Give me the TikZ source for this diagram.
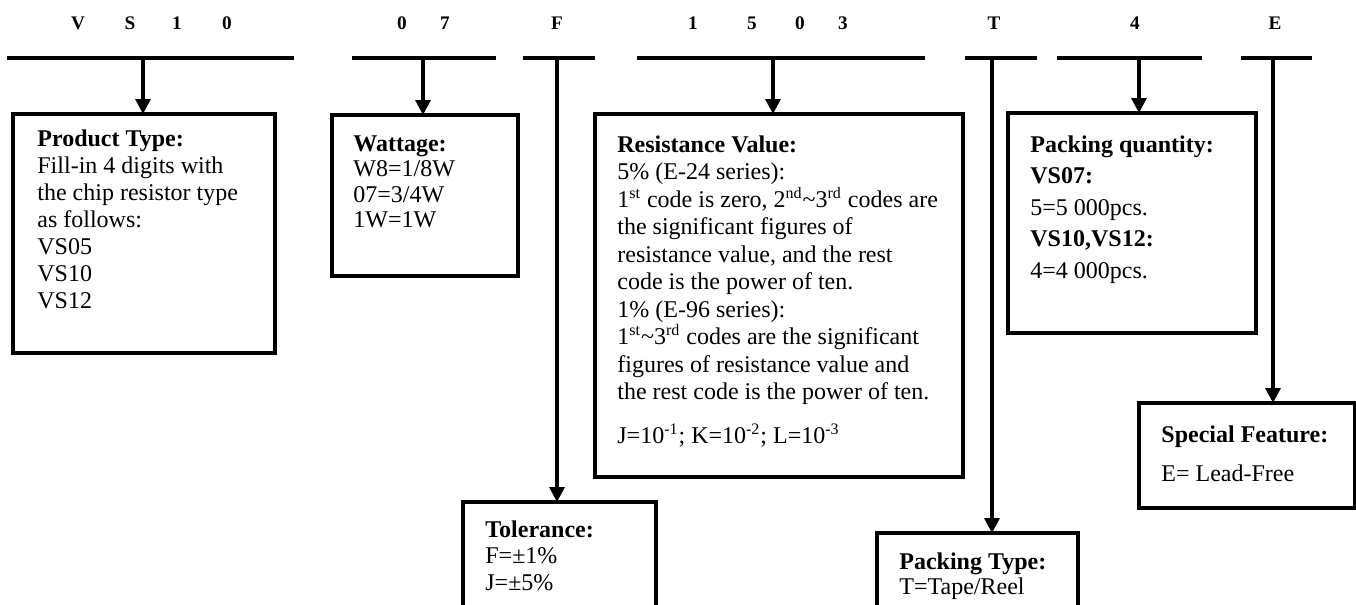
\documentclass[tikz,border=0pt]{standalone}
\usepackage{fontspec}
\setmainfont{Liberation Serif}
\usetikzlibrary{arrows.meta}
\setlength{\lineskiplimit}{-20pt}
\begin{document}
\begin{tikzpicture}[x=0.5pt,y=-0.5pt,
  hline/.style={line width=2pt},
  box/.style={draw, line width=1.75pt, rectangle, inner sep=0pt, outer sep=0pt, anchor=north west},
  arr/.style={line width=1.6pt, -{Triangle[width=7.5pt,length=7.5pt]}},
  lab/.style={font=\fontsize{9.6}{11}\selectfont\bfseries, anchor=base, inner sep=0pt},
  txt/.style={anchor=north west, inner sep=0pt, align=left}
]
\useasboundingbox (0,0) rectangle (1356,605);
\clip (0,0) rectangle (1356,605);

% header letters
\node[lab] (lV) at (78,30) {V};
\node[lab] (lS) at (130,30) {S};
\node[lab] (l1) at (177,30) {1};
\node[lab] (l0) at (227,30) {0};
\node[lab] (w0) at (402,30) {0};
\node[lab] (w7) at (445,30) {7};
\node[lab] (tF) at (557,30) {F};
\node[lab] (r1) at (693,30) {1};
\node[lab] (r5) at (752,30) {5};
\node[lab] (r0) at (800,30) {0};
\node[lab] (r3) at (843,30) {3};
\node[lab] (pT) at (994,30) {T};
\node[lab] (q4) at (1135,30) {4};
\node[lab] (sE) at (1275,30) {E};

% header lines
\draw[hline] (7,58) -- (294,58);
\draw[hline] (352,58) -- (496,58);
\draw[hline] (523,58) -- (595,58);
\draw[hline] (637,58) -- (925,58);
\draw[hline] (965,58) -- (1037,58);
\draw[hline] (1057,58) -- (1202,58);
\draw[hline] (1241,58) -- (1312,58);

\coordinate (c1) at (143,58);
\coordinate (c2) at (423,58);
\coordinate (c3) at (557,58);
\coordinate (c4) at (773,58);
\coordinate (c5) at (992,58);
\coordinate (c6) at (1139,58);
\coordinate (c7) at (1273,58);

% boxes
\node[box, minimum width=131pt, minimum height=119.5pt] (prod) at (13,114) {};
\node[box, minimum width=93pt, minimum height=80.5pt] (watt) at (332,115) {};
\node[box, minimum width=96.5pt, minimum height=60pt] (tol) at (463,502) {};
\node[box, minimum width=184pt, minimum height=181.5pt] (res) at (595,114) {};
\node[box, minimum width=100.5pt, minimum height=45pt] (ptype) at (877,533) {};
\node[box, minimum width=124pt, minimum height=110pt] (pq) at (1008,113) {};
\node[box, minimum width=108pt, minimum height=52.5pt] (spec) at (1139,403) {};

% connectors
\draw[arr] (c1) -- (c1 |- prod.north);
\draw[arr] (c2) -- (c2 |- watt.north);
\draw[arr] (c3) -- (c3 |- tol.north);
\draw[arr] (c4) -- (c4 |- res.north);
\draw[arr] (c5) -- (c5 |- ptype.north);
\draw[arr] (c6) -- (c6 |- pq.north);
\draw[arr] (c7) -- (c7 |- spec.north);

% texts
\node[txt, font=\fontsize{12}{13.5}\selectfont] (prodt) at (37,129)
 {\textbf{Product Type:}\\Fill-in 4 digits with\\the chip resistor type\\as follows:\\VS05\\VS10\\VS12};
\node[txt, font=\fontsize{12}{12.8}\selectfont] (wattt) at (353,135)
 {\textbf{Wattage:}\\W8=1/8W\\07=3/4W\\1W=1W};
\node[txt, font=\fontsize{12}{13.75}\selectfont] (rest) at (617,135)
 {\textbf{Resistance Value:}\\5\% (E-24 series):\\1\textsuperscript{st} code is zero, 2\textsuperscript{nd}\textasciitilde3\textsuperscript{rd} codes are\\the significant figures of\\resistance value, and the rest\\code is the power of ten.\\1\% (E-96 series):\\1\textsuperscript{st}\textasciitilde3\textsuperscript{rd} codes are the significant\\figures of resistance value and\\the rest code is the power of ten.\\[8pt]J=10\textsuperscript{-1}; K=10\textsuperscript{-2}; L=10\textsuperscript{-3}};
\node[txt, font=\fontsize{12}{15.8}\selectfont] (pqt) at (1030,135)
 {\textbf{Packing quantity:}\\\textbf{VS07:}\\5=5 000pcs.\\\textbf{VS10,VS12:}\\4=4 000pcs.};
\node[txt, font=\fontsize{12}{13.3}\selectfont] (tolt) at (485,520)
 {\textbf{Tolerance:}\\F=±1\%\\J=±5\%};
\node[txt, font=\fontsize{12}{12.5}\selectfont] (ptypet) at (899,552)
 {\textbf{Packing Type:}\\T=Tape/Reel};
\node[txt, font=\fontsize{12}{19.5}\selectfont] (spect) at (1161,425)
 {\textbf{Special Feature:}\\E= Lead-Free};
\end{tikzpicture}
\end{document}
